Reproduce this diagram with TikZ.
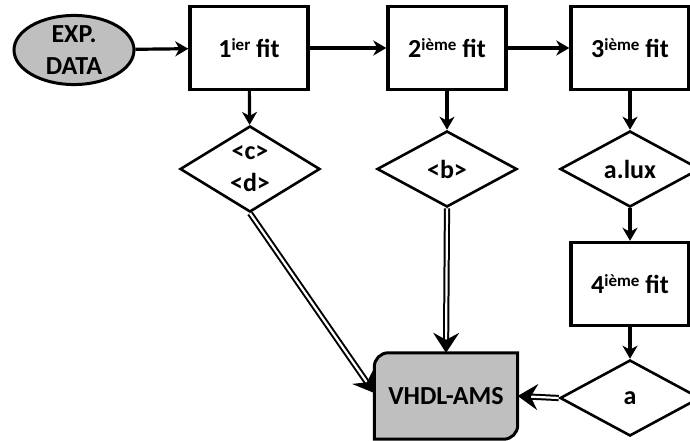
\documentclass[tikz,border=0pt]{standalone}
\usepackage{fontspec}
\setmainfont{Carlito}
\usetikzlibrary{shapes.geometric,arrows.meta,backgrounds}
\newcommand{\sps}[1]{\raisebox{0.6ex}{\fontsize{17}{17}\selectfont #1}}
\tikzset{
  lbl/.style={font=\bfseries\fontsize{26}{32}\selectfont, text=black},
  fitbox/.style={lbl, draw, line width=3.4pt, rectangle, minimum width=118pt, minimum height=83pt, inner sep=0pt},
  dia/.style={lbl, draw, line width=2.6pt, diamond, minimum width=140pt, minimum height=76pt, inner sep=0pt, align=center},
  datanode/.style={lbl, draw, line width=3pt, ellipse, fill=gray!50, minimum width=120pt, minimum height=60pt, inner sep=0pt, align=center},
  vbox/.style={lbl, rectangle, minimum width=143pt, minimum height=86pt, inner sep=0pt},
  arr/.style={line width=3.2pt, -{Stealth[length=13pt,width=15pt,inset=4pt]}},
  darr/.style={double, double distance=2.2pt, line width=2pt, -{Stealth[length=20pt,width=26pt,inset=7pt]}}
}
\begin{document}
\begin{tikzpicture}[x=1pt,y=-1pt]
\useasboundingbox (0,0) rectangle (690,441);
\node[datanode] (data) at (74,50) {EXP.\\DATA};
\node[fitbox] (f1) at (249,48) {1\sps{ier} fit};
\node[fitbox] (f2) at (447,48) {2\sps{ième} fit};
\node[fitbox] (f3) at (630,48) {3\sps{ième} fit};
\node[dia] (d1) at (250,169) {<c>\\<d>};
\node[dia] (d2) at (447,169) {<b>};
\node[dia] (d3) at (630,169) {a.lux};
\node[fitbox] (f4) at (630,284) {4\sps{ième} fit};
\node[dia] (da) at (630,398) {a};
\node[vbox] (vhdl) at (446,396) {VHDL-AMS};
\begin{scope}[on background layer]
\filldraw[fill=gray!50, line width=3pt]
  ([xshift=14pt]vhdl.north west) -- (vhdl.north east) -- ([yshift=14pt]vhdl.south east)
  arc[start angle=0, end angle=-90, radius=14pt] -- (vhdl.south west)
  -- ([yshift=-14pt]vhdl.north west) arc[start angle=180, end angle=90, radius=14pt] -- cycle;
\end{scope}
\draw[arr] (data) -- (f1);
\draw[arr] (f1) -- (f2);
\draw[arr] (f2) -- (f3);
\draw[arr] (f1) -- (d1);
\draw[arr] (f2) -- (d2);
\draw[arr] (f3) -- (d3);
\draw[arr] (d3) -- (f4);
\draw[arr] (f4) -- (da);
\draw[darr] (d1.south) -- ([yshift=3pt]vhdl.west);
\draw[darr] (d2.south) -- (vhdl.north);
\draw[darr] (da.west) -- (vhdl.east);
\end{tikzpicture}
\end{document}
